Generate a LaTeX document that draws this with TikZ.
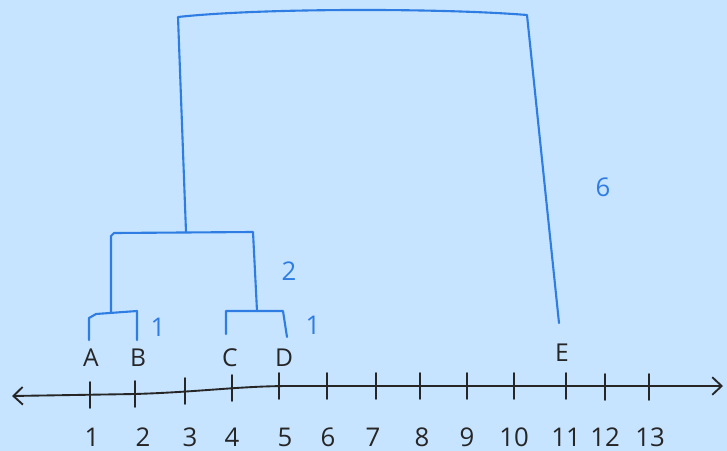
\documentclass[tikz,border=0pt]{standalone}
\usepackage{fontspec}
\setmainfont{Open Sans}
\usepackage{tikz}
\usetikzlibrary{arrows.meta}
\definecolor{sky}{HTML}{C6E3FF}
\definecolor{pen}{HTML}{2F7DE3}

\begin{document}
\begin{tikzpicture}[
    x=0.03cm, y=-0.03cm,
    link/.style={draw=pen, line width=1.8pt, line join=round, line cap=round},
    axisline/.style={draw=black!85, line width=1.6pt},
    tickmark/.style={draw=black!85, line width=1.6pt, line cap=round},
    leaf/.style={font=\fontsize{21}{23}\selectfont, text=black!85},
    num/.style={font=\fontsize{22}{24}\selectfont, text=black!85},
    dist/.style={font=\fontsize{22}{24}\selectfont, text=pen},
]

% Background
\fill[sky] (0,0) rectangle (727,451);
\useasboundingbox (0,0) rectangle (727,451);

% Number line
\coordinate (west) at (12,396);
\coordinate (bend) at (135,394);
\coordinate (flat) at (290,386);
\coordinate (east) at (723,386);
\draw[axisline, {Straight Barb[length=8pt,width=15pt]}-{Straight Barb[length=8pt,width=15pt]}]
  (west) -- (bend) .. controls (200,392) and (240,386) .. (flat) -- (east);

% Ticks and their numbers
\foreach \n/\x/\y/\lx in {
  1/90/395/92, 2/135/394/143, 3/185/391/190, 4/232/388/232,
  5/279/386/285, 6/327/386/328, 7/376/386/373, 8/420/386/422,
  9/467/386/467, 10/514/386/514, 11/566/386/566, 12/605/387/605,
  13/649/387/650
}{
  \coordinate (t\n) at (\x,\y);
  \draw[tickmark] (\x,\y-13) -- (\x,\y+13);
  \node[num] (n\n) at (\lx,437) {\n};
}

% Points
\foreach \name/\x/\y in {A/91/358, B/138/358, C/230/358, D/284/358, E/562/353}{
  \node[leaf] (\name) at (\x,\y) {\name};
}

% Dendrogram
\coordinate (legA) at (89,340);
\coordinate (legB) at (137,340);
\coordinate (legC) at (226,334);
\coordinate (legD) at (287,337);
\coordinate (legE) at (559,323);
\coordinate (joinAB) at (111,312);
\coordinate (joinCD) at (257,311);
\coordinate (joinABCD) at (186,232);
\draw[link] (legA) -- (89,318) -- (96,314) -- (137,311) -- (legB);
\draw[link] (legC) -- (226,311) -- (283,311) -- (legD);
\draw[link] (joinAB) -- (111,236) -- (114,233) -- (253,232) -- (joinCD);
\draw[link] (joinABCD) -- (178,17) .. controls (260,8) and (440,8) .. (527,15) -- (legE);

% Merge distances
\node[dist] (dAB) at (158,327) {1};
\node[dist] (dCD) at (313,325) {1};
\node[dist] (dABCD) at (289,271) {2};
\node[dist] (dall) at (603,187) {6};

\end{tikzpicture}
\end{document}
